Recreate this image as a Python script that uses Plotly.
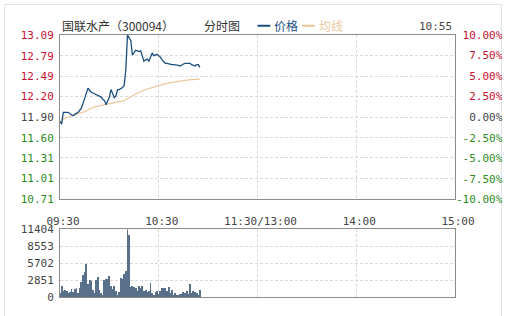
import plotly.graph_objects as go

# ---------------- data ----------------
price_min = list(range(86))
price = [11.84, 11.80, 11.97, 11.97, 11.97, 11.97, 11.95, 11.93, 11.92, 11.94,
         11.95, 11.97, 12.00, 12.03, 12.10, 12.17, 12.25, 12.32, 12.29, 12.26,
         12.25, 12.24, 12.23, 12.22, 12.21, 12.19, 12.16, 12.14, 12.08, 12.13,
         12.19, 12.30, 12.24, 12.18, 12.21, 12.30, 12.30, 12.31, 12.33, 12.36,
         12.59, 13.09, 13.05, 13.01, 12.80, 12.84, 12.87, 12.86, 12.85, 12.86,
         12.78, 12.71, 12.73, 12.74, 12.71, 12.77, 12.83, 12.79, 12.80, 12.81,
         12.79, 12.77, 12.73, 12.70, 12.68, 12.68, 12.67, 12.67, 12.66, 12.66,
         12.66, 12.65, 12.65, 12.64, 12.66, 12.67, 12.68, 12.68, 12.67, 12.68,
         12.66, 12.65, 12.64, 12.66, 12.66, 12.62]

avg_min = [0, 3, 7, 11, 15, 21, 29, 35, 39, 42, 44, 48, 52, 57, 62, 67, 72, 78, 85]
avg_val = [11.84, 11.88, 11.92, 11.95, 11.98, 12.05, 12.09, 12.11, 12.14, 12.18,
           12.21, 12.26, 12.30, 12.34, 12.37, 12.40, 12.42, 12.44, 12.45]

volume = [543, 1792, 869, 1086, 977, 543, 706, 1249, 706, 1358,
          1520, 543, 1412, 2498, 3584, 4127, 5430, 2063, 2878, 2606,
          1086, 543, 2878, 3258, 1086, 543, 326, 2878, 2987, 3041,
          3421, 1792, 1358, 1792, 869, 326, 706, 3149, 3041, 3801,
          4344, 11404, 10317, 1629, 1792, 1629, 1520, 977, 1792, 1520,
          1792, 977, 1086, 706, 977, 2335, 543, 326, 706, 977,
          434, 977, 1412, 1520, 1412, 869, 1629, 543, 1086, 326,
          543, 326, 326, 434, 434, 706, 543, 869, 434, 2172,
          543, 869, 706, 543, 326, 1086]

time_ticks = [0, 60, 120, 180, 240]
time_labels = ["09:30", "10:30", "11:30/13:00", "14:00", "15:00"]

price_ticks = [10.71, 11.01, 11.31, 11.60, 11.90, 12.20, 12.49, 12.79, 13.09]
price_labels = ["10.71", "11.01", "11.31", "11.60", "11.90", "12.20", "12.49", "12.79", "13.09"]
pct_ticks = [-10, -7.5, -5, -2.5, 0, 2.5, 5, 7.5, 10]
pct_labels = ["-10.00%", "-7.50%", "-5.00%", "-2.50%", "0.00%", "2.50%", "5.00%", "7.50%", "10.00%"]
vol_ticks = [0, 2851, 5702, 8553, 11404]
vol_labels = ["0", "2851", "5702", "8553", "11404"]

RED = "#c8102e"
GREEN = "#2e8a1e"
NEUTRAL = "#444444"
PRICE_C = "#1c4f80"
AVG_C = "#eac79b"
VOL_C = "#587089"
GRID = "#d9d9d9"
FRAME = "#8c8c8c"


def colored(labels, vals, mid):
    out = []
    for l, v in zip(labels, vals):
        c = RED if v > mid else (GREEN if v < mid else NEUTRAL)
        out.append('<span style="color:%s">%s</span>' % (c, l))
    return out


def pad(labels, n=7):
    return [("\u00a0" * (n - len(l))) + l for l in labels]


fig = go.Figure()
fig.add_trace(go.Scatter(x=avg_min, y=avg_val, mode="lines",
                         line=dict(color=AVG_C, width=1.2), xaxis="x", yaxis="y"))
fig.add_trace(go.Scatter(x=price_min, y=price, mode="lines",
                         line=dict(color=PRICE_C, width=1.3), xaxis="x", yaxis="y"))
fig.add_trace(go.Bar(x=price_min, y=volume, marker=dict(color=VOL_C, line=dict(width=0)),
                     width=0.55, xaxis="x2", yaxis="y2"))
# invisible trace to activate right axis
fig.add_trace(go.Scatter(x=[0], y=[0], mode="markers", marker=dict(opacity=0),
                         xaxis="x", yaxis="y3", hoverinfo="skip"))

tickfont = dict(family="DejaVu Sans Mono", size=11, color=NEUTRAL)

ax_common = dict(range=[0, 240], tickvals=time_ticks, showgrid=True, gridcolor=GRID,
                 griddash="3px,2px", gridwidth=1, showline=True, mirror=True,
                 linecolor=FRAME, linewidth=1, zeroline=False, ticks="")

fig.update_layout(
    width=515, height=316,
    margin=dict(l=60, r=55, t=34.5, b=12),
    paper_bgcolor="white", plot_bgcolor="white",
    showlegend=False,
    bargap=0,
    xaxis=dict(**ax_common, domain=[0, 1], anchor="y", ticktext=time_labels,
               tickfont=tickfont, ticklabelstandoff=11, ticklabelshift=3),
    xaxis2=dict(**ax_common, domain=[0, 1], anchor="y2", showticklabels=False),
    yaxis=dict(domain=[0.3729, 1], range=[10.71, 13.09], tickvals=price_ticks,
               ticktext=colored(price_labels, price_ticks, 11.90), tickfont=tickfont,
               showgrid=True, gridcolor=GRID, griddash="3px,2px", zeroline=False,
               showline=True, mirror=True, linecolor=FRAME, ticks="", ticklabelstandoff=3),
    yaxis3=dict(overlaying="y", side="right", anchor="x", range=[-10, 10], tickvals=pct_ticks,
                ticktext=colored(pad(pct_labels), pct_ticks, 0), tickfont=tickfont,
                showgrid=False, zeroline=False, ticks="", ticklabelstandoff=0),
    yaxis2=dict(domain=[0, 0.2579], range=[0, 11404], tickvals=vol_ticks, ticktext=vol_labels,
                tickfont=tickfont, showgrid=True, gridcolor=GRID, griddash="3px,2px",
                zeroline=False, showline=True, mirror=True, linecolor=FRAME, ticks="",
                ticklabelstandoff=3),
)


def px_x(px):
    return (px - 60) / 400.0


def px_y(py):
    return (304 - py) / 269.5


cjk = "Noto Sans CJK SC"
annots = [
    dict(text="国联水产（300094）", x=px_x(60), y=px_y(25), xanchor="left",
         font=dict(family=cjk, size=12, color="#333333")),
    dict(text="分时图", x=px_x(204), y=px_y(25), xanchor="left",
         font=dict(family=cjk, size=12, color="#333333")),
    dict(text="价格", x=px_x(275), y=px_y(25), xanchor="left",
         font=dict(family=cjk, size=12, color=PRICE_C)),
    dict(text="均线", x=px_x(320), y=px_y(25), xanchor="left",
         font=dict(family=cjk, size=12, color=AVG_C)),
    dict(text="10:55", x=px_x(459), y=px_y(26), xanchor="right",
         font=dict(family="DejaVu Sans Mono", size=11, color=NEUTRAL)),
]
for a in annots:
    a.update(xref="paper", yref="paper", yanchor="middle", showarrow=False)
fig.update_layout(annotations=annots)

shapes = [
    dict(type="line", xref="paper", yref="paper", x0=px_x(260), x1=px_x(273),
         y0=px_y(25), y1=px_y(25), line=dict(color=PRICE_C, width=2)),
    dict(type="line", xref="paper", yref="paper", x0=px_x(305), x1=px_x(318),
         y0=px_y(25), y1=px_y(25), line=dict(color=AVG_C, width=2)),
    dict(type="rect", xref="paper", yref="paper", x0=px_x(4), x1=px_x(507),
         y0=px_y(330), y1=px_y(3), line=dict(color="#dde1e6", width=1), layer="below"),
]
fig.update_layout(shapes=shapes)

fig.write_html("out.html")
